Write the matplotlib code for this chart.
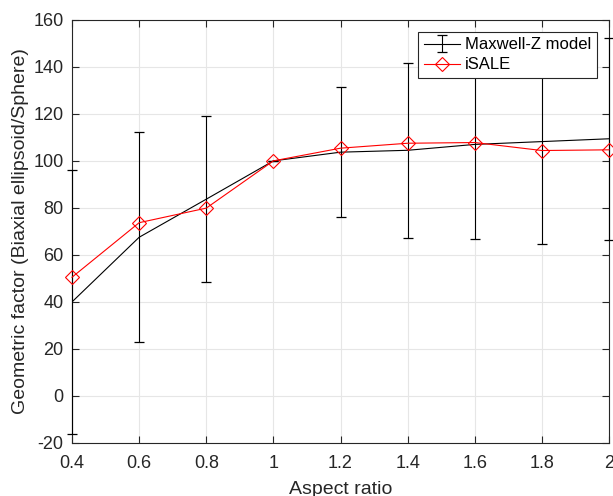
import numpy as np
import matplotlib.pyplot as plt

plt.rcParams['font.family'] = ['Liberation Sans', 'DejaVu Sans']
plt.rcParams['axes.unicode_minus'] = False

aspect = [0.4, 0.6, 0.8, 1.0, 1.2, 1.4, 1.6, 1.8, 2.0]
maxwell_z = [40.0, 67.5, 83.7, 100.0, 103.7, 104.5, 107.0, 108.2, 109.4]
maxwell_err = [56.0, 44.7, 35.2, 0.0, 27.7, 37.2, 40.3, 43.4, 43.0]
isale = [50.5, 73.7, 79.9, 100.0, 105.4, 107.5, 107.8, 104.4, 104.7]

ink = '#262626'

fig = plt.figure(figsize=(6.13, 4.96), dpi=100)
ax = fig.add_axes([0.1175, 0.107, 0.876, 0.853])

eb = ax.errorbar(aspect, maxwell_z, yerr=maxwell_err, color='k', lw=0.8,
                 elinewidth=0.8, capsize=3.5, capthick=0.9,
                 label='Maxwell-Z model', zorder=3)
# let the caps at the axis edges hang over the spines
for art in eb.lines[1]:
    art.set_clip_on(False)
for art in eb.lines[2]:
    art.set_clip_on(False)

ln, = ax.plot(aspect, isale, color='r', lw=0.8, marker='D', ms=7, mfc='none',
              mec='r', mew=0.8, label='iSALE', zorder=4, clip_on=False)

ax.set_xlim(0.4, 2.0)
ax.set_ylim(-20, 160)
ax.set_xticks(np.arange(0.4, 2.01, 0.2))
ax.set_xticklabels(['0.4', '0.6', '0.8', '1', '1.2', '1.4', '1.6', '1.8', '2'])
ax.set_yticks(np.arange(-20, 161, 20))

ax.grid(True, color='#e6e6e6', lw=0.8)
ax.set_axisbelow(True)
ax.tick_params(direction='in', top=True, right=True, length=5, width=0.8,
               colors=ink, labelsize=13)
ax.tick_params(axis='x', pad=9)
ax.tick_params(axis='y', pad=6)
for s in ax.spines.values():
    s.set_color(ink)
    s.set_linewidth(0.8)

ax.set_xlabel('Aspect ratio', fontsize=14, color=ink, labelpad=6)
ax.set_ylabel('Geometric factor (Biaxial ellipsoid/Sphere)', fontsize=14,
              color=ink, labelpad=3)

leg = ax.legend([eb, ln], ['Maxwell-Z model', 'iSALE'], loc='upper right',
                fontsize=12, frameon=True, fancybox=False,
                borderpad=0.35, handlelength=2.2, handletextpad=0.3,
                labelspacing=0.3, borderaxespad=0.7)
leg.get_frame().set_edgecolor(ink)
leg.get_frame().set_linewidth(0.8)
leg.get_frame().set_alpha(1)
leg.set_zorder(10)

fig.savefig('out.png', dpi=100)
